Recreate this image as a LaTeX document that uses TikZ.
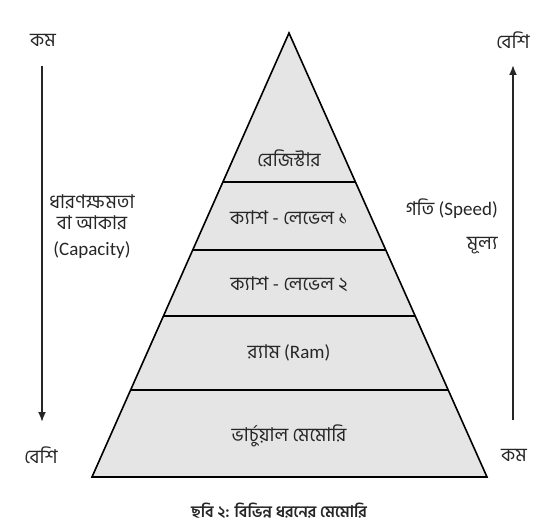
\documentclass[tikz,border=0pt]{standalone}
\usepackage{fontspec}
\setmainfont{Carlito}
\newfontfamily\bn[Script=Bengali]{Hind Siliguri}
\usetikzlibrary{calc}
\usetikzlibrary{arrows.meta}
\tikzset{>=Latex}
\tikzset{
  lbl/.style={font=\fontsize{19}{20}\selectfont, text=black!85, inner sep=0pt},
  capline/.style={lbl, text height=11pt, text depth=4pt},
  axis arrow/.style={line width=1.8pt, black!85, -{Latex[length=10pt,width=8pt]}},
}

\begin{document}
\begin{tikzpicture}[x=1pt,y=-1pt]
            \useasboundingbox (0,0) rectangle (558,527);

            % pyramid
            \coordinate (apex) at (289,33);
            \coordinate (bl) at (92,477);
            \coordinate (br) at (487,477);
            \filldraw[fill=gray!20, line width=1.6pt, line join=miter] (apex) -- (bl) -- (br) -- cycle;
            \foreach \t in {0.3356,0.4887,0.6374,0.8041}
                \draw[line width=1.6pt] ($(apex)!\t!(bl)$) -- ($(apex)!\t!(br)$);

            \node[lbl] (reg) at (289,158) {\bn রেজিস্টার};
            \node[lbl] (lone) at (289,218) {\bn ক্যাশ - লেভেল ১};
            \node[lbl] (ltwo) at (289,284) {\bn ক্যাশ - লেভেল ২};
            \node[lbl] (ram) at (289,353) {{\bn র^^^^200d্যাম} (Ram)};
            \node[lbl] (virt) at (289,436) {\bn ভার্চুয়াল মেমোরি};

            % left side
            \node[lbl] (kamL) at (43,40) {\bn কম};
            \node[lbl] (beshiL) at (41,455) {\bn বেশি};
            \coordinate (ltop) at (42,66);
            \coordinate (lbot) at (42,422);
            \draw[axis arrow] (ltop) -- (lbot);
            \node[capline] (capa) at (92,205) {\bn ধারণক্ষমতা};
            \node[capline] (capb) at (92,226) {\bn বা আকার};
            \node[capline] (capc) at (92,252) {(Capacity)};

            % right side
            \node[lbl] (beshiR) at (513,40) {\bn বেশি};
            \node[lbl] (kamR) at (514,455) {\bn কম};
            \coordinate (rbot) at (513,420);
            \coordinate (rtop) at (513,65);
            \draw[axis arrow] (rbot) -- (rtop);
            \node[lbl, anchor=east] (speed) at (498,209) {{\bn গতি} (Speed)};
            \node[lbl, anchor=east] (price) at (498,246) {\bn মূল্য};

            \node[inner sep=0pt, font=\fontsize{16}{16}\selectfont\bfseries, text=black!85] (caption) at (279,511) {\bn ছবি ২: বিভিন্ন ধরনের মেমোরি};

        \end{tikzpicture}
\end{document}
